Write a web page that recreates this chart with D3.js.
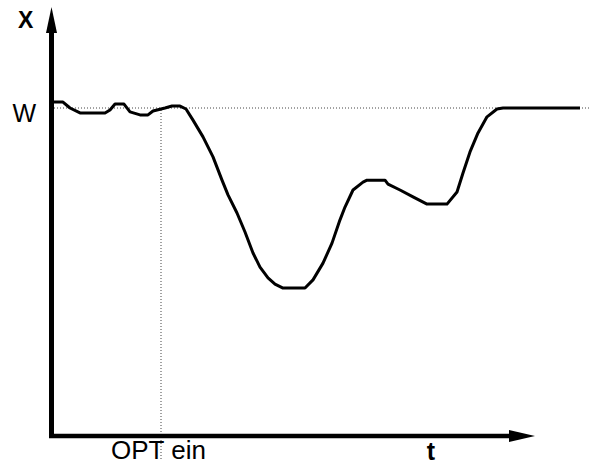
<!DOCTYPE html>
<html>
<head>
<meta charset="utf-8">
<script src="https://cdn.jsdelivr.net/npm/d3@7"></script>
<style>
  body { margin: 0; background: #fff; }
  text { font-family: "Liberation Sans", Arial, sans-serif; fill: #000; }
</style>
</head>
<body>
<div id="chart"></div>
<script>
// time values (arbitrary units) and controlled value x (W = 100)
var tVals = [3, 12, 19, 29, 54, 59, 64, 73, 79, 89, 97, 102, 114, 121, 129, 135, 142, 152, 162, 171,
  177, 186, 194, 202, 209, 217, 224, 232, 254, 262, 272, 281, 289, 294, 302, 312, 316, 334, 337,
  349, 362, 376, 396, 406, 412, 419, 427, 436, 446, 452, 529];
var xVals = [101.8, 101.8, 100, 98.5, 98.5, 99.4, 101.2, 101.2, 98.8, 97.9, 97.9, 99.1, 100, 100.6, 100.6, 99.7, 96.3, 91.2, 85.1, 78.0,
  73.5, 68.0, 62.2, 55.8, 51.5, 48.2, 46.3, 45.1, 45.1, 47.6, 52.7, 58.8, 65.9, 69.8, 75.0, 77.4, 78.0, 78.0, 76.8,
  75.0, 72.9, 70.7, 70.7, 74.4, 80.2, 86.6, 92.4, 97.3, 99.7, 100, 100];

var wLevel = 100;
var optTime = 110;
var tickLabels = ["OPT ein"];
var tLabelTime = 380;

var svgWidth = 593;
var svgHeight = 468;

var svg = d3.select("#chart")
  .append("svg")
  .attr("width", svgWidth)
  .attr("height", svgHeight);

var x = d3.scaleLinear()
  .domain([0, 500])
  .range([51, 551]);

var y = d3.scaleLinear()
  .domain([0, 100])
  .range([436, 108]);

// dotted guide lines
svg.append("line")
  .attr("x1", x(3)).attr("x2", 591)
  .attr("y1", y(wLevel)).attr("y2", y(wLevel))
  .attr("stroke", "#444")
  .attr("stroke-width", 1)
  .attr("stroke-dasharray", "1,2");

svg.append("line")
  .attr("x1", x(optTime)).attr("x2", x(optTime))
  .attr("y1", y(wLevel) + 2).attr("y2", 460)
  .attr("stroke", "#444")
  .attr("stroke-width", 1)
  .attr("stroke-dasharray", "1,2");

// x axis with tick label only
var xAxis = svg.append("g")
  .attr("transform", "translate(0," + y(0) + ")")
  .call(d3.axisBottom(x).tickValues([optTime]).tickFormat(function (d, i) { return tickLabels[i]; }).tickSize(0));
xAxis.select(".domain").remove();
xAxis.selectAll("text")
  .attr("y", 23)
  .attr("dy", 0)
  .attr("dx", -3)
  .style("font-size", "26px")
  .style("font-family", "Liberation Sans, Arial, sans-serif");

// y axis with W label
var yAxis = svg.append("g")
  .attr("transform", "translate(" + x(0) + ",0)")
  .call(d3.axisLeft(y).tickValues([wLevel]).tickFormat(function () { return "W"; }).tickSize(0));
yAxis.select(".domain").remove();
yAxis.selectAll("text")
  .attr("x", -15)
  .attr("dy", "0.55em")
  .style("font-size", "25px")
  .style("font-family", "Liberation Sans, Arial, sans-serif");

// axis lines with arrows
svg.append("line")
  .attr("x1", x(-2)).attr("x2", x(461))
  .attr("y1", y(0)).attr("y2", y(0))
  .attr("stroke", "#000").attr("stroke-width", 4.5);
svg.append("path")
  .attr("d", "M" + x(484) + "," + y(0) + "L" + x(458) + "," + (y(0) - 6) + "L" + x(458) + "," + (y(0) + 6) + "Z")
  .attr("fill", "#000");

svg.append("line")
  .attr("x1", x(0.5)).attr("x2", x(0.5))
  .attr("y1", y(0) + 2).attr("y2", 30)
  .attr("stroke", "#000").attr("stroke-width", 5);
svg.append("path")
  .attr("d", "M" + x(0.5) + ",7L" + (x(0.5) - 5.5) + ",33L" + (x(0.5) + 5.5) + ",33Z")
  .attr("fill", "#000");

// curve
var line = d3.line()
  .x(function (d, i) { return x(tVals[i]); })
  .y(function (d) { return y(d); });

svg.append("path")
  .datum(xVals)
  .attr("d", line)
  .attr("fill", "none")
  .attr("stroke", "#000")
  .attr("stroke-width", 3)
  .attr("stroke-linejoin", "round");

// axis titles
svg.append("text")
  .attr("x", 18)
  .attr("y", 28)
  .style("font-size", "23px")
  .style("font-weight", "bold")
  .text("X");

svg.append("text")
  .attr("x", x(tLabelTime))
  .attr("y", 460)
  .attr("text-anchor", "middle")
  .style("font-size", "25px")
  .style("font-weight", "bold")
  .text("t");
</script>
</body>
</html>
